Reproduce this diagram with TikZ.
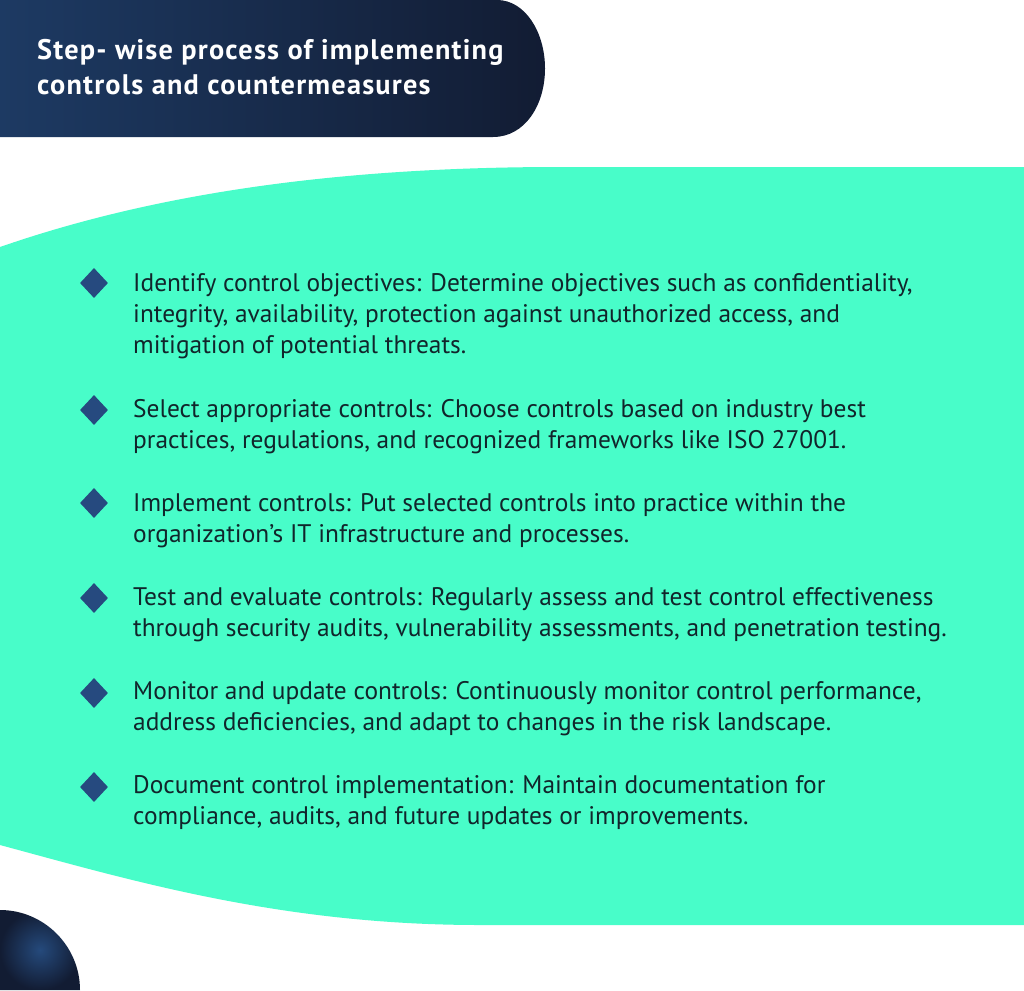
\documentclass[tikz,border=0pt]{standalone}
\usepackage{fontspec}
\setmainfont{PT Sans}
\newfontfamily\headfont{PT Sans}[LetterSpace=4.3]
\usetikzlibrary{shapes.geometric}
\definecolor{cMint}{HTML}{48FDC9}
\definecolor{cHdA}{HTML}{1D3A63}
\definecolor{cHdB}{HTML}{254A7C}
\definecolor{cHdC}{HTML}{121C33}
\definecolor{cBullet}{HTML}{264A7F}
\definecolor{cText}{HTML}{11252B}
\tikzset{
  bulletmark/.style={diamond, fill=cBullet, minimum width=28pt, minimum height=30pt, inner sep=0pt, draw=none},
  itemtext/.style={anchor=base west, inner sep=0pt, text=cText},
}
\newcommand{\itembox}[1]{\parbox[t]{890pt}{\raggedright\fontsize{25.4}{31}\selectfont #1}}
\begin{document}
\begin{tikzpicture}[x=1pt,y=-1pt]
\useasboundingbox (0,0) rectangle (1024,990);
\fill[white] (0,0) rectangle (1024,990);
% header band
\shade[left color=cHdA, middle color=cHdB, right color=cHdC]
  (0,0) -- (497,0) .. controls (525,0) and (545,32) .. (545,68.5)
  .. controls (545,105) and (525,137) .. (493,137) -- (0,137) -- cycle;
% mint panel
\fill[cMint] (0,247) .. controls (150,195) and (330,167) .. (560,167) -- (1024,167)
  -- (1024,925) -- (480,925) .. controls (280,925) and (130,880) .. (0,845) -- cycle;
% bottom-left quarter disc
\shade[inner color=cHdB, outer color=cHdC]
  (0,910) .. controls (44,910) and (80,946) .. (80,990) -- (0,990) -- cycle;
% title
\node[anchor=base west, inner sep=0pt, text=white] (title) at (37,59.5)
  {\parbox[t]{520pt}{\headfont\bfseries\fontsize{28.3}{35}\selectfont Step- wise process of implementing\\controls and countermeasures}};
% bullets
\node[bulletmark] (b1) at (94,283) {};
\node[bulletmark] (b2) at (94,410) {};
\node[bulletmark] (b3) at (94,503) {};
\node[bulletmark] (b4) at (94,598) {};
\node[bulletmark] (b5) at (94,693) {};
\node[bulletmark] (b6) at (94,787) {};
% texts
\node[itemtext] (t1) at (133,291.5) {\itembox{Identify control objectives: Determine objectives such as confidentiality,\\integrity, availability, protection against unauthorized access, and\\mitigation of potential threats.}};
\node[itemtext] (t2) at (133,417.5) {\itembox{Select appropriate controls: Choose controls based on industry best\\practices, regulations, and recognized frameworks like ISO 27001.}};
\node[itemtext] (t3) at (133,511) {\itembox{Implement controls: Put selected controls into practice within the\\organization’s IT infrastructure and processes.}};
\node[itemtext] (t4) at (133,605.5) {\itembox{Test and evaluate controls: Regularly assess and test control effectiveness\\through security audits, vulnerability assessments, and penetration testing.}};
\node[itemtext] (t5) at (133,699.5) {\itembox{Monitor and update controls: Continuously monitor control performance,\\address deficiencies, and adapt to changes in the risk landscape.}};
\node[itemtext] (t6) at (133,793.5) {\itembox{Document control implementation: Maintain documentation for\\compliance, audits, and future updates or improvements.}};
\end{tikzpicture}
\end{document}
